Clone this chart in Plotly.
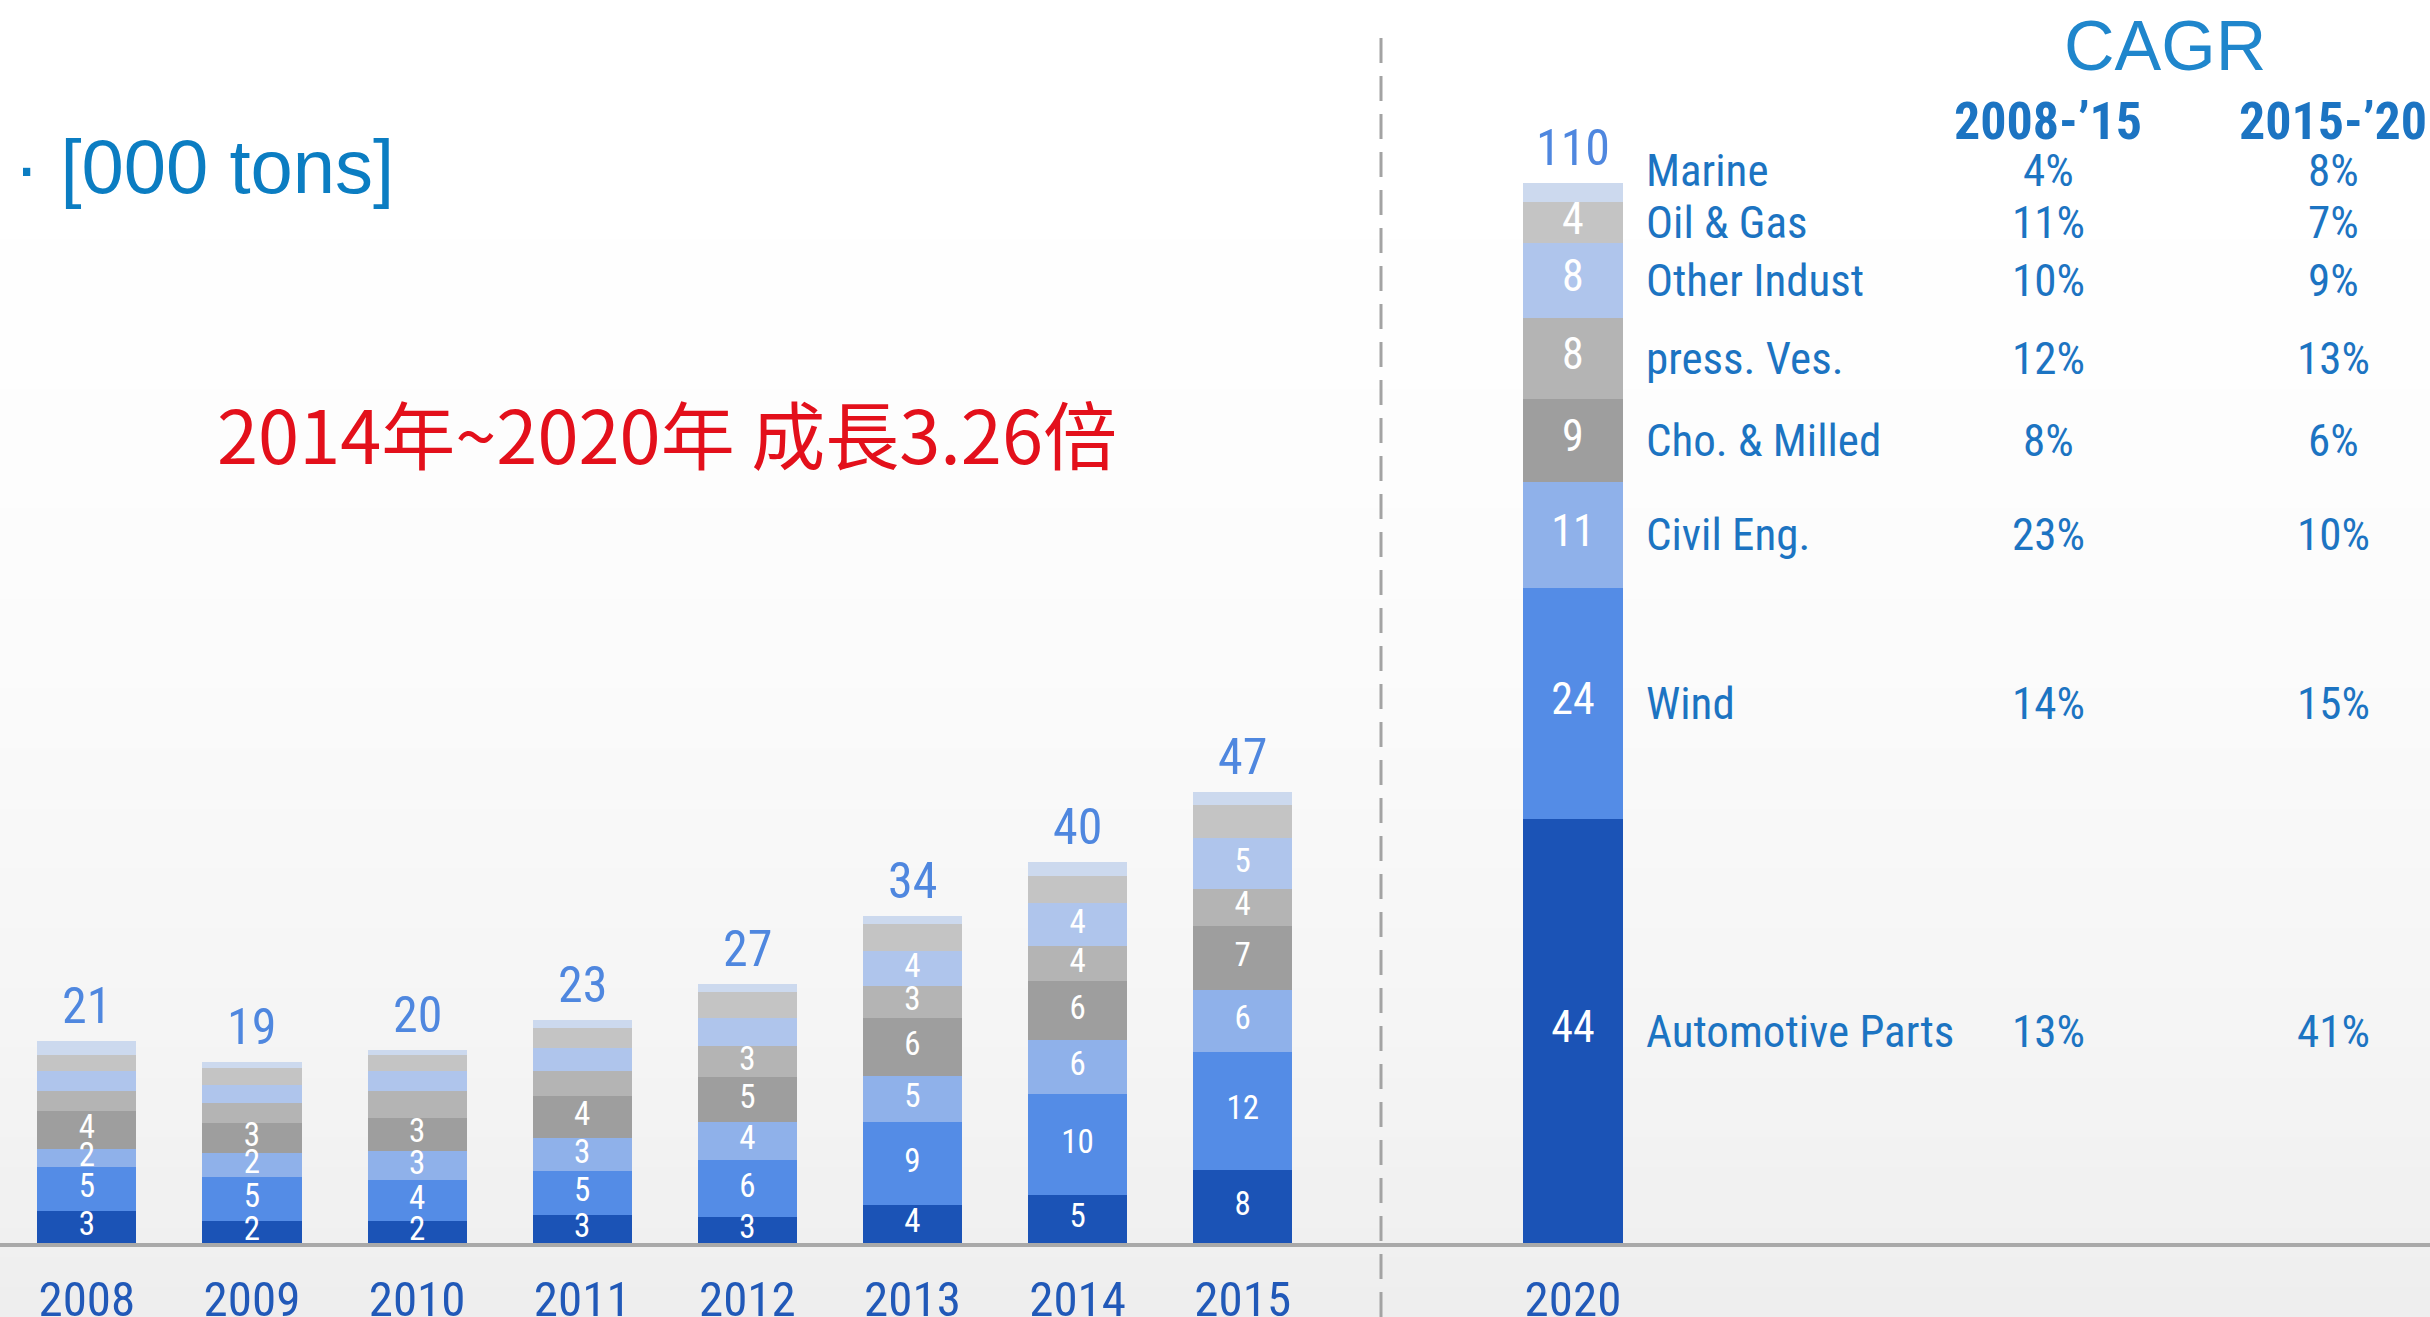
import plotly.graph_objects as go

# ---------------- data ----------------
years = ["2008", "2009", "2010", "2011", "2012", "2013", "2014", "2015", "2020"]
x_pos = [0, 1, 2, 3, 4, 5, 6, 7, 9]

categories = ["Automotive Parts", "Wind", "Civil Eng.", "Cho. & Milled",
              "press. Ves.", "Other Indust", "Oil & Gas", "Marine"]

automotive = [3.3, 2.3, 2.3, 2.9, 2.7, 3.9, 5.0, 7.6, 44]
wind       = [4.6, 4.6, 4.2, 4.6, 5.9, 8.7, 10.45, 12.2, 24]
civil      = [1.9, 2.4, 3.1, 3.4, 4.0, 4.7, 5.6, 6.45, 11]
cho_milled = [3.9, 3.2, 3.4, 4.4, 4.6, 6.1, 6.1, 6.7, 8.6]
press_ves  = [2.1, 2.0, 2.8, 2.5, 3.2, 3.3, 3.7, 3.8, 8.4]
other_ind  = [2.1, 1.9, 2.0, 2.4, 2.9, 3.6, 4.45, 5.3, 7.8]
oil_gas    = [1.6, 1.8, 1.7, 2.1, 2.7, 2.8, 2.8, 3.4, 4.2]
marine     = [1.5, 0.6, 0.5, 0.8, 0.9, 0.8, 1.4, 1.4, 2.0]

totals = [21, 19, 20, 23, 27, 34, 40, 47, 110]

# which segments carry a value label
show_auto   = [1, 1, 1, 1, 1, 1, 1, 1, 1]
show_wind   = [1, 1, 1, 1, 1, 1, 1, 1, 1]
show_civil  = [1, 1, 1, 1, 1, 1, 1, 1, 1]
show_cho    = [1, 1, 1, 1, 1, 1, 1, 1, 1]
show_press  = [0, 0, 0, 0, 1, 1, 1, 1, 1]
show_other  = [0, 0, 0, 0, 0, 1, 1, 1, 1]
show_oil    = [0, 0, 0, 0, 0, 0, 0, 0, 1]
show_marine = [0, 0, 0, 0, 0, 0, 0, 0, 0]

cagr_2008_15 = ["13%", "14%", "23%", "8%", "12%", "10%", "11%", "4%"]
cagr_2015_20 = ["41%", "15%", "10%", "6%", "13%", "9%", "7%", "8%"]

# ---------------- styles ----------------
series = [automotive, wind, civil, cho_milled, press_ves, other_ind, oil_gas, marine]
shows = [show_auto, show_wind, show_civil, show_cho, show_press, show_other, show_oil, show_marine]
colors = ["#1B53B6", "#548CE6", "#8FB1EA", "#9E9E9E", "#B4B4B4", "#AFC5EC", "#C4C4C4", "#CCD9EE"]

NARROW = "Liberation Sans Narrow, Arial Narrow, Roboto Condensed, Roboto, sans-serif"
TXT_BLUE = "#1C74C2"

W, H = 2430, 1317
MB = 74
PLOT_H = H - MB
X0 = -0.526
X1 = 14.19
Y1 = 129

fig = go.Figure()

for name, vals, col in zip(categories, series, colors):
    fig.add_trace(go.Bar(
        x=x_pos, y=vals, name=name, width=0.6,
        marker=dict(color=col, line=dict(width=0)),
        hoverinfo="skip", textposition="none",
    ))

# segment value labels (white) at the middle of each segment
lx, ly, lt, ls = [], [], [], []
base = [0.0] * len(x_pos)
for vals, flags in zip(series, shows):
    for i, v in enumerate(vals):
        if flags[i]:
            lx.append(x_pos[i])
            ly.append(base[i] + v / 2)
            lt.append(f"{v:.0f}")
            ls.append(44 if years[i] == "2020" else 33)
        base[i] += v
fig.add_trace(go.Scatter(
    x=lx, y=ly, text=lt, mode="text", textposition="middle center",
    textfont=dict(color="white", size=ls, family=NARROW),
    hoverinfo="skip", showlegend=False,
))

annotations = []
# totals above bars
for xp, top, tot in zip(x_pos, base, totals):
    annotations.append(dict(
        x=xp, y=top, xref="x", yref="y", text=str(tot), showarrow=False,
        yanchor="bottom", yshift=4,
        font=dict(size=50, color="#4F87DF", family=NARROW)))

# category names and CAGR values next to the 2020 bar
i2020 = years.index("2020")
cum = 0.0
for k, (name, vals) in enumerate(zip(categories, series)):
    v = vals[i2020]
    mid = cum + v / 2
    cum += v
    ys = 22 if name == "Marine" else 0
    annotations.append(dict(x=1644 / W, y=mid, xref="paper", yref="y", text=name,
                            showarrow=False, xanchor="left", yshift=ys,
                            font=dict(size=45, color=TXT_BLUE, family=NARROW)))
    annotations.append(dict(x=2048 / W, y=mid, xref="paper", yref="y", text=cagr_2008_15[k],
                            showarrow=False, xanchor="center", yshift=ys,
                            font=dict(size=45, color=TXT_BLUE, family=NARROW)))
    annotations.append(dict(x=2333 / W, y=mid, xref="paper", yref="y", text=cagr_2015_20[k],
                            showarrow=False, xanchor="center", yshift=ys,
                            font=dict(size=45, color=TXT_BLUE, family=NARROW)))

def py(px):
    return (PLOT_H - px) / PLOT_H

annotations += [
    dict(x=2165 / W, y=py(46), xref="paper", yref="paper", text="CAGR", showarrow=False,
         xanchor="center", yanchor="middle",
         font=dict(size=70, color="#1F86CC", family="Liberation Sans, Arial, sans-serif")),
    dict(x=2048 / W, y=py(121), xref="paper", yref="paper", text="<b>2008-’15</b>", showarrow=False,
         xanchor="center", yanchor="middle", font=dict(size=52, color=TXT_BLUE, family=NARROW)),
    dict(x=2333 / W, y=py(121), xref="paper", yref="paper", text="<b>2015-’20</b>", showarrow=False,
         xanchor="center", yanchor="middle", font=dict(size=52, color=TXT_BLUE, family=NARROW)),
    dict(x=12 / W, y=py(167), xref="paper", yref="paper", text="· [000 tons]", showarrow=False,
         xanchor="left", yanchor="middle",
         font=dict(size=76, color="#0B7DC2", family="Liberation Sans, Arial, sans-serif")),
    dict(x=667 / W, y=py(431), xref="paper", yref="paper", text="2014年~2020年 成長3.26倍",
         showarrow=False, xanchor="center", yanchor="middle",
         font=dict(size=74, color="#E3101B", family="Noto Sans CJK TC, Noto Sans CJK SC, sans-serif")),
]

# background gradient bands + dashed divider
shapes = []
NB = 44
for b in range(NB):
    y_top = b * H / NB
    y_bot = (b + 1) * H / NB
    t = ((y_top + y_bot) / 2) / H
    g = round(255 - 17 * t ** 2)
    shapes.append(dict(type="rect", xref="paper", yref="paper", x0=0, x1=1,
                       y0=py(y_bot + 1), y1=py(y_top), layer="below",
                       fillcolor=f"rgb({g},{g},{g})", line=dict(width=0)))
shapes.append(dict(type="line", xref="paper", yref="paper", x0=1381 / W, x1=1381 / W,
                   y0=py(H), y1=py(28), layer="above",
                   line=dict(color="#A3A3A3", width=3, dash="25px,13px")))

fig.update_layout(
    width=W, height=H,
    margin=dict(l=0, r=0, t=0, b=MB, pad=0),
    barmode="stack", bargap=0.4, showlegend=False,
    paper_bgcolor="white", plot_bgcolor="rgba(0,0,0,0)",
    annotations=annotations, shapes=shapes,
    xaxis=dict(range=[X0, X1], tickvals=x_pos, ticktext=years,
               tickfont=dict(size=49, color="#2159B8", family=NARROW),
               ticks="outside", ticklen=10, tickcolor="rgba(0,0,0,0)",
               showline=True, linecolor="#A9A9A9", linewidth=4,
               showgrid=False, zeroline=False, automargin=False, fixedrange=True),
    yaxis=dict(range=[0, Y1], visible=False, showgrid=False, zeroline=False,
               automargin=False, fixedrange=True),
)

fig.write_html("out.html", post_script="document.body.style.margin='0';",
               config={"displayModeBar": False})
